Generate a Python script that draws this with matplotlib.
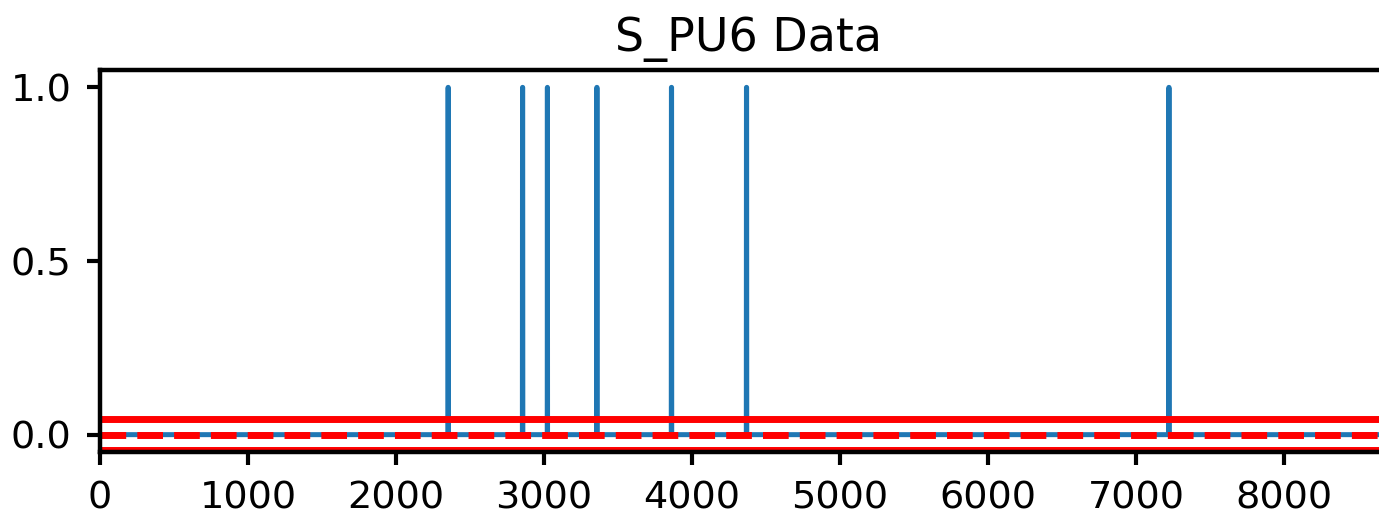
import numpy as np
from matplotlib import pyplot as plt

n_samples = 8761
spike_starts = [2352, 2855, 3023, 3357, 3861, 4368, 7222]
spike_widths = [2, 2, 1, 2, 2, 2, 2]
upper_bound = 0.045
lower_bound = -0.045
center_line = 0.0

if __name__ == '__main__':
    s_pu6 = np.zeros(n_samples)
    for start, width in zip(spike_starts, spike_widths):
        s_pu6[start:start + width] = 1.0

    fig = plt.figure(figsize=(13.79, 5.14), dpi=100)
    ax = fig.add_axes([0.0725, 0.1206, 0.9403, 0.7432])
    ax.plot(np.arange(n_samples), s_pu6, color='#1f77b4', linewidth=3.6)
    ax.axhline(upper_bound, color='red', linewidth=5)
    ax.axhline(lower_bound, color='red', linewidth=5)
    ax.axhline(center_line, color='red', linewidth=5, linestyle='--')

    ax.set_xlim(0, n_samples)
    ax.set_ylim(-0.05, 1.05)
    ax.set_yticks([0.0, 0.5, 1.0])
    ax.set_xticks(np.arange(0, 9000, 1000))
    ax.set_title('S_PU6 Data', fontsize=33, pad=14)
    ax.tick_params(labelsize=27.5, length=9.5, width=3, pad=11)
    for spine in ax.spines.values():
        spine.set_linewidth(3.2)

    fig.savefig('out.png', dpi=100)
